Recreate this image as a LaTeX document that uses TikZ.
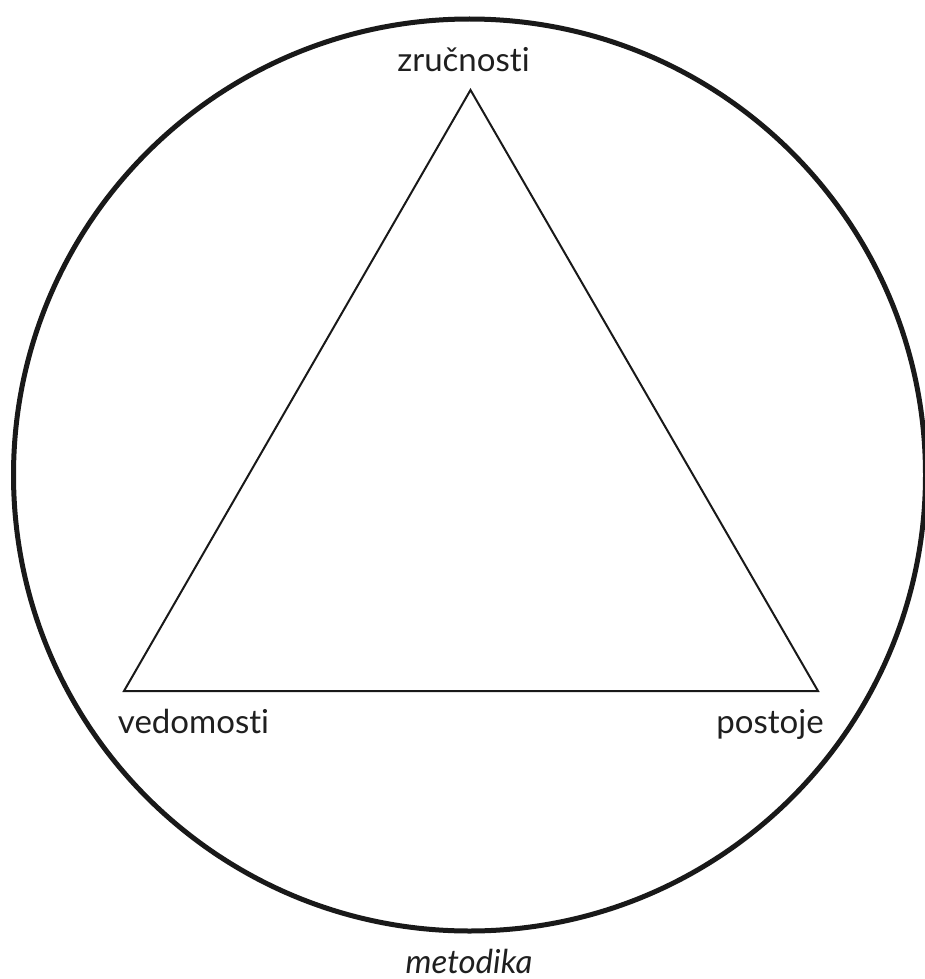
\documentclass[tikz,border=0pt]{standalone}
\usepackage{fontspec}
\setmainfont[Ligatures={NoCommon}]{Lato}
\begin{document}
\begin{tikzpicture}[x=1pt,y=-1pt,
  lbl/.style={anchor=base,inner sep=0pt,font=\fontsize{33}{39}\selectfont,text=black!88},
  ring/.style={line width=5pt,draw=black!90},
  tri/.style={line width=2pt,draw=black!90,line join=miter}]
\useasboundingbox (0,0) rectangle (925,979);
\coordinate (c) at (469.5,475);
\draw[ring] (c) circle[radius=456pt];
\coordinate (A) at (470.5,90);
\coordinate (B) at (124,691);
\coordinate (C) at (818,691);
\draw[tri] (A) -- (B) -- (C) -- cycle;
\node[lbl] (z) at (463.5,72) {zručnosti};
\node[lbl] (v) at (193.5,733) {vedomosti};
\node[lbl] (p) at (770,733) {postoje};
\node[lbl,font=\fontsize{33}{39}\selectfont\itshape] (m) at (469,973) {metodika};
\end{tikzpicture}
\end{document}
